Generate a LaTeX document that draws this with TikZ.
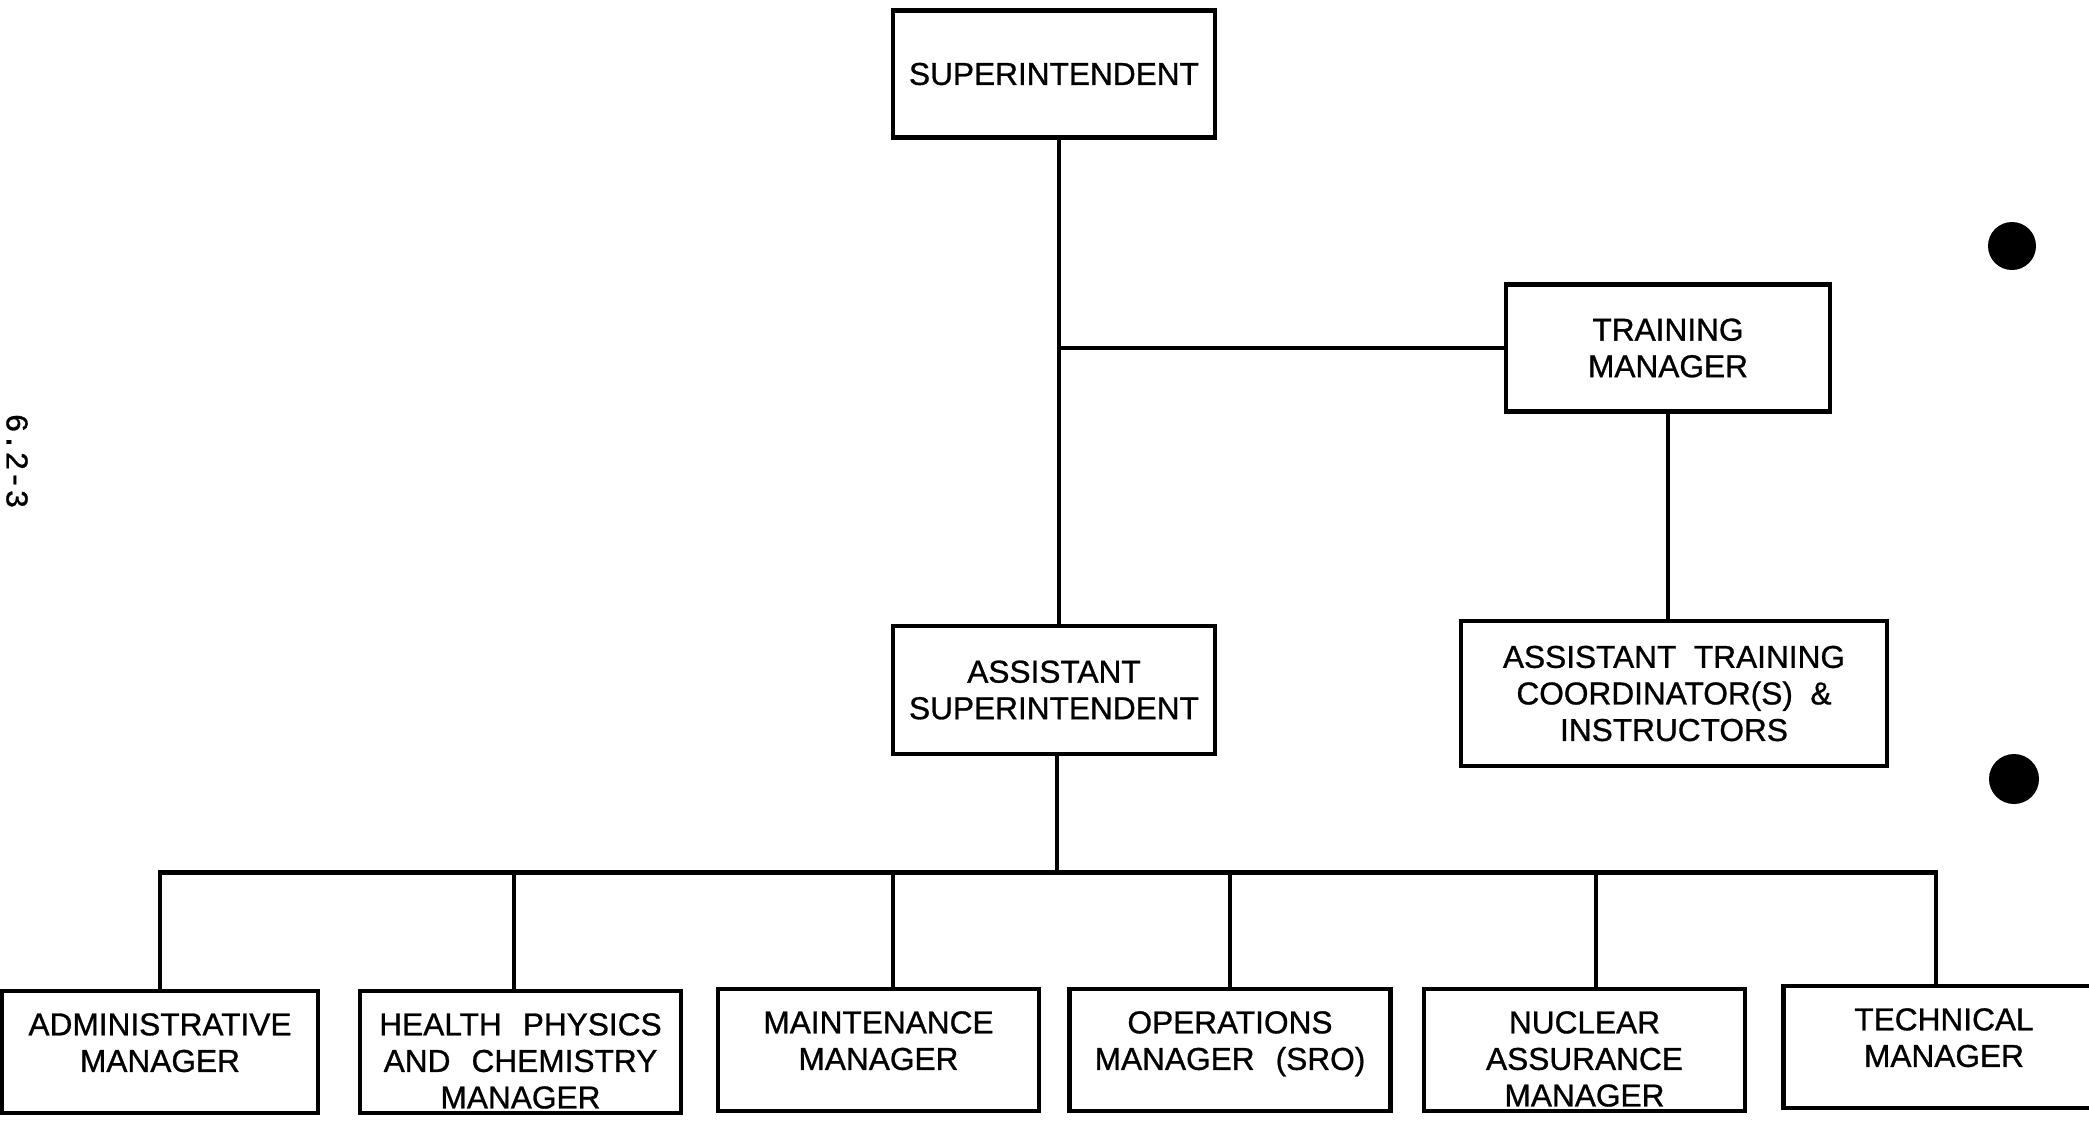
\documentclass[tikz,border=0pt]{standalone}
\usepackage{fontspec}
\setmainfont{Liberation Sans}[FakeBold=0.9]
\setmonofont{Liberation Mono}[FakeBold=0.9]
\tikzset{
    org-box/.style = {draw, line width=1.2pt, rectangle, inner sep=0pt, align=center, minimum width=3.22cm, minimum height=1.27cm, font=\fontsize{9}{10.4}\selectfont},
    org-row-box/.style = {org-box, minimum width=3.21cm, minimum height=1.22cm, text width=3.1cm, text height=6.5pt, text depth=16pt},
    org-line/.style = {line width=1.4pt},
    punch-hole/.style = {fill=black},
}

\begin{document}
\begin{tikzpicture}
\useasboundingbox (0,0) rectangle (20.89,-11.23);
\node [org-box] (sup) at (10.54,-0.74) {SUPERINTENDENT};
\node [org-box, minimum height=1.28cm] (asup) at (10.54,-6.90) {ASSISTANT\\SUPERINTENDENT};
\node [org-box, minimum width=3.24cm] (train) at (16.68,-3.48) {TRAINING\\MANAGER};
\node [org-box, minimum width=4.26cm, minimum height=1.45cm] (atrain) at (16.74,-6.935) {ASSISTANT\ \ TRAINING\\COORDINATOR(S)\ \ \&\\INSTRUCTORS};

\node [org-row-box, minimum width=3.16cm] (admin) at (1.60,-10.52) {ADMINISTRATIVE\\MANAGER};
\node [org-row-box] (health) at (5.205,-10.52) {HEALTH\ \ PHYSICS\\AND\ \ CHEMISTRY\\MANAGER};
\node [org-row-box] (maint) at (8.785,-10.50) {MAINTENANCE\\MANAGER};
\node [org-row-box] (ops) at (12.30,-10.50) {OPERATIONS\\MANAGER\ \ (SRO)};
\node [org-row-box] (nuc) at (15.845,-10.50) {NUCLEAR\\ASSURANCE\\MANAGER};
\node [org-row-box] (tech) at (19.44,-10.47) {TECHNICAL\\MANAGER};

\node [font=\ttfamily\fontsize{9}{10}\selectfont, rotate=-90] (page-no) at (0.17,-4.61) {6.2-3};

\draw [org-line] ([xshift=0.05cm]sup.south) -- ([xshift=0.05cm]asup.north);
\draw [org-line] (train.west) -- ([xshift=0.05cm]train.west -| sup.south);
\draw [org-line] (train.south) -- (train.south |- atrain.north);
\coordinate (bus) at ([xshift=0.03cm, yshift=-1.16cm]asup.south);
\draw [org-line] ([xshift=0.03cm]asup.south) -- (bus);
\foreach \n/\dx in {admin/0, health/-0.065, maint/0.145, ops/0, nuc/0.115, tech/-0.08}
    \draw [org-line] ([xshift=\dx cm]\n.north) |- (bus);

\fill [punch-hole] (20.12,-2.46) circle (0.24);
\fill [punch-hole] (20.14,-7.79) circle (0.25);
\end{tikzpicture}
\end{document}
